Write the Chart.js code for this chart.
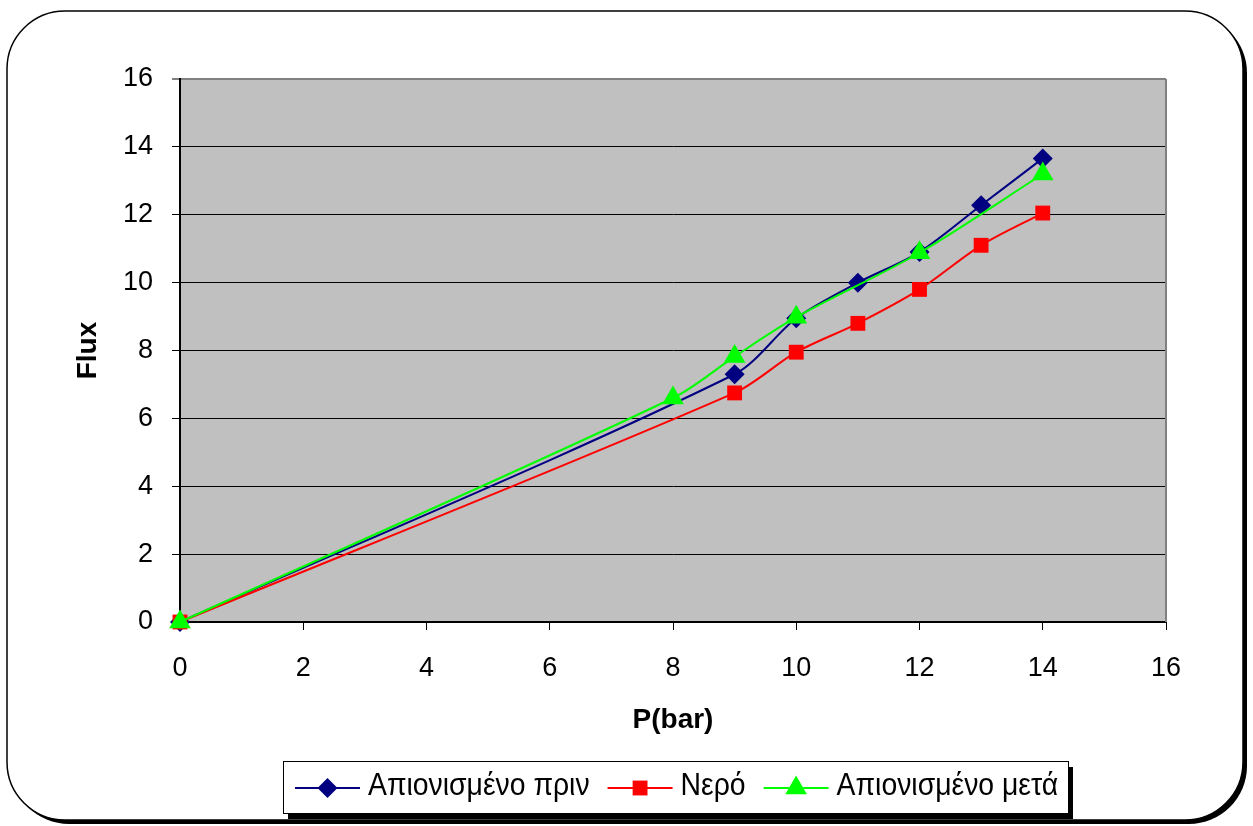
<!DOCTYPE html>
<html>
<head>
<meta charset="utf-8">
<script src="https://cdn.jsdelivr.net/npm/chart.js@4.4.0/dist/chart.umd.min.js"></script>
<style>
  body { margin: 0; background: #fff; }
  canvas { display: block; }
</style>
</head>
<body>
<canvas id="fluxChart" width="1253" height="826"></canvas>
<script>
// values
const pressureBefore = [0, 9, 10, 11, 12, 13, 14];
const fluxBefore = [0, 7.3, 8.95, 10, 10.9, 12.28, 13.66];

const pressureWater = [0, 9, 10, 11, 12, 13, 14];
const fluxWater = [0, 6.75, 7.95, 8.8, 9.8, 11.1, 12.05];

const pressureAfter = [0, 8, 9, 10, 12, 14];
const fluxAfter = [0, 6.6, 7.82, 8.98, 10.88, 13.2];

const seriesNames = ['Απιονισμένο πριν', 'Νερό', 'Απιονισμένο μετά'];
const seriesColors = ['#000080', '#FF0000', '#00FF00'];
const seriesMarkers = ['rectRot', 'rect', 'triangle'];
const seriesRadius = [10, 10.5, 12.5];

const xTicks = [0, 2, 4, 6, 8, 10, 12, 14, 16];
const yTicks = [0, 2, 4, 6, 8, 10, 12, 14, 16];

function toPoints(xs, ys) {
    return xs.map((x, i) => ({ x: x, y: ys[i] }));
}

const allX = [pressureBefore, pressureWater, pressureAfter];
const allY = [fluxBefore, fluxWater, fluxAfter];

// later series are painted on top, as in the original
const datasets = seriesNames.map((name, i) => ({
    label: name,
    data: toPoints(allX[i], allY[i]),
    order: seriesNames.length - i,
    borderColor: seriesColors[i],
    backgroundColor: seriesColors[i],
    pointStyle: seriesMarkers[i],
    pointRadius: seriesRadius[i],
    pointBorderWidth: 0,
    borderWidth: 2,
    tension: 0.3,
    clip: false
}));

// rounded frame with a hard shadow, grey plot area
const framePlugin = {
    id: 'frame',
    beforeDraw(chart) {
        const ctx = chart.ctx;
        const a = chart.chartArea;
        ctx.save();
        ctx.fillStyle = '#fff';
        ctx.fillRect(0, 0, chart.width, chart.height);
        ctx.beginPath();
        ctx.roundRect(11, 15, 1236, 809, 58);
        ctx.fillStyle = '#000';
        ctx.fill();
        ctx.beginPath();
        ctx.roundRect(7, 11, 1236, 809, 58);
        ctx.fillStyle = '#fff';
        ctx.fill();
        ctx.lineWidth = 1.5;
        ctx.strokeStyle = '#000';
        ctx.stroke();
        ctx.fillStyle = '#C0C0C0';
        ctx.fillRect(a.left, a.top, a.right - a.left, a.bottom - a.top);
        ctx.restore();
    },
    beforeDatasetsDraw(chart) {
        const ctx = chart.ctx;
        const a = chart.chartArea;
        ctx.save();
        ctx.strokeStyle = '#808080';
        ctx.lineWidth = 2;
        ctx.beginPath();
        ctx.moveTo(a.right, a.top);
        ctx.lineTo(a.right, a.bottom);
        ctx.stroke();
        ctx.restore();
    }
};

// Excel style legend box under the chart
const legendBoxPlugin = {
    id: 'legendBox',
    afterDraw(chart) {
        const ctx = chart.ctx;
        const box = { x: 283, y: 761, w: 785, h: 52 };
        ctx.save();
        ctx.fillStyle = '#000';
        ctx.fillRect(box.x + 5, box.y + 6, box.w, box.h);
        ctx.fillStyle = '#fff';
        ctx.fillRect(box.x, box.y, box.w, box.h);
        ctx.strokeStyle = '#000';
        ctx.lineWidth = 1;
        ctx.strokeRect(box.x + 0.5, box.y + 0.5, box.w, box.h);

        // the original text is a condensed face, squeeze it with maxWidth
        ctx.font = '31px "Liberation Sans", Arial, sans-serif';
        ctx.textBaseline = 'middle';
        const cy = 788;
        let x = 295;
        chart.data.datasets.forEach((ds) => {
            const lineLen = 65;
            ctx.strokeStyle = ds.borderColor;
            ctx.lineWidth = 2;
            ctx.beginPath();
            ctx.moveTo(x, cy);
            ctx.lineTo(x + lineLen, cy);
            ctx.stroke();
            ctx.fillStyle = ds.backgroundColor;
            Chart.helpers.drawPoint(ctx, {
                pointStyle: ds.pointStyle,
                radius: ds.pointRadius,
                borderWidth: 0,
                rotation: 0
            }, x + lineLen / 2, cy);
            x += lineLen + 8;
            const w = ctx.measureText(ds.label).width * 0.915;
            ctx.fillStyle = '#000';
            ctx.fillText(ds.label, x, cy - 2, w);
            x += w + 18;
        });
        ctx.restore();
    }
};

const tickFont = { family: '"Liberation Sans", Arial, sans-serif', size: 27 };
const titleFont = { family: '"Liberation Sans", Arial, sans-serif', size: 28, weight: 'bold' };

const config = {
    type: 'line',
    data: { datasets: datasets },
    options: {
        responsive: false,
        devicePixelRatio: 1,
        animation: false,
        layout: { padding: { left: 0, top: 79, right: 87, bottom: 84 } },
        plugins: {
            legend: { display: false },
            tooltip: { enabled: false }
        },
        scales: {
            x: {
                type: 'linear',
                min: 0,
                max: 16,
                afterBuildTicks: (scale) => { scale.ticks = xTicks.map(v => ({ value: v })); },
                afterFit: (scale) => { scale.height = 120; },
                ticks: { color: '#000', font: tickFont, padding: 22, maxRotation: 0 },
                grid: { drawOnChartArea: false, color: '#000', tickLength: 8, lineWidth: 1 },
                border: { color: '#000', width: 2 },
                title: { display: true, text: 'P(bar)', color: '#000', font: titleFont, padding: { top: 0, bottom: 5 } }
            },
            y: {
                min: 0,
                max: 16,
                afterBuildTicks: (scale) => { scale.ticks = yTicks.map(v => ({ value: v })); },
                afterFit: (scale) => { scale.width = 180; },
                ticks: { color: '#000', font: tickFont, padding: 19 },
                grid: {
                    color: (c) => (c.tick && c.tick.value === 16 ? '#808080' : '#000'),
                    lineWidth: (c) => (c.tick && c.tick.value === 16 ? 2 : 1),
                    tickLength: 8
                },
                border: { color: '#000', width: 2 },
                title: { display: true, text: 'Flux', color: '#000', font: titleFont, padding: { top: 71, bottom: 0 } }
            }
        }
    },
    plugins: [framePlugin, legendBoxPlugin]
};

const fluxChart = new Chart(document.getElementById('fluxChart'), config);
</script>
</body>
</html>
